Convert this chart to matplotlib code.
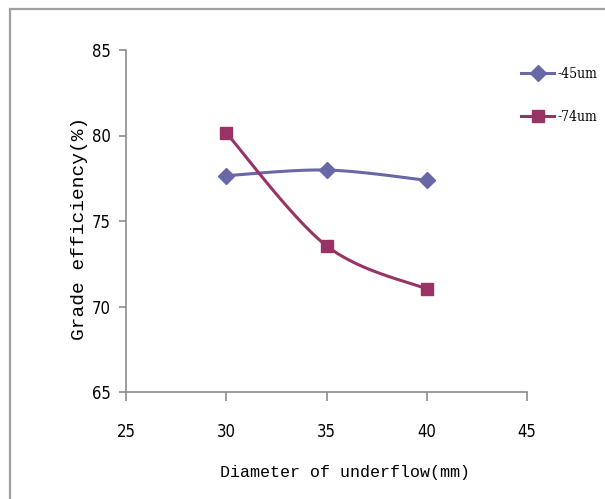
import numpy as np
import matplotlib.pyplot as plt
from matplotlib.patches import Rectangle
from matplotlib.lines import Line2D

# ---------- data ----------
diameter = [30, 35, 40]
eff_45 = [77.65, 77.98, 77.38]
eff_74 = [80.15, 73.55, 71.02]
labels = ["-45um", "-74um"]

cols = {"s45": "#6868A6", "s74": "#993366", "axis": "#8C8C8C"}

MONO = ["Liberation Mono", "DejaVu Sans Mono"]


def smooth(x, y, n=40):
    # Catmull-Rom curve through the points, like Excel's smoothed line
    x = np.asarray(x, float)
    y = np.asarray(y, float)
    px = np.concatenate([[x[0]], x, [x[-1]]])
    py = np.concatenate([[y[0]], y, [y[-1]]])
    xs, ys = [], []
    t = np.linspace(0, 1, n)
    for i in range(1, len(px) - 2):
        for p, out in ((px, xs), (py, ys)):
            p0, p1, p2, p3 = p[i - 1], p[i], p[i + 1], p[i + 2]
            out.extend(0.5 * (2 * p1 + (-p0 + p2) * t
                              + (2 * p0 - 5 * p1 + 4 * p2 - p3) * t ** 2
                              + (-p0 + 3 * p1 - 3 * p2 + p3) * t ** 3))
    return xs, ys


fig = plt.figure(figsize=(6.05, 4.99), dpi=100)
ax = fig.add_axes([126 / 605, 1 - 392 / 499, 401 / 605, 342 / 499])

# outer chart frame
fig.patches.append(Rectangle((10 / 605, -0.05), 1.0, 1 - 9 / 499 + 0.05,
                             transform=fig.transFigure, fill=False,
                             edgecolor="#A0A0A0", linewidth=1.6))

for yv, c, m in ((eff_45, cols["s45"], "D"), (eff_74, cols["s74"], "s")):
    sx, sy = smooth(diameter, yv)
    ax.plot(sx, sy, color=c, linewidth=2.2, solid_capstyle="round")
    ax.plot(diameter, yv, linestyle="none", marker=m, markersize=8,
            color=c, markeredgecolor=c)

ax.set_xlim(25, 45)
ax.set_ylim(65, 85)
ax.set_xticks([25, 30, 35, 40, 45])
ax.set_yticks([65, 70, 75, 80, 85])

for s in ("top", "right"):
    ax.spines[s].set_visible(False)
for s in ("left", "bottom"):
    ax.spines[s].set_color(cols["axis"])
    ax.spines[s].set_linewidth(1.2)

ax.tick_params(axis="y", direction="out", length=5, width=1.2,
               color=cols["axis"], pad=6)
ax.tick_params(axis="x", direction="out", length=6.5, width=1.2,
               color=cols["axis"], pad=16)
for lab in ax.get_xticklabels() + ax.get_yticklabels():
    lab.set_family("DejaVu Sans")
    lab.set_stretch("condensed")
    lab.set_fontsize(12)

ax.set_xlabel("Diameter of underflow(mm)", family=MONO, fontsize=12)
ax.xaxis.set_label_coords((345 - 126) / 401, -(465 - 392) / 342)
ax.set_ylabel("Grade efficiency(%)", family=MONO, fontsize=14)
ax.yaxis.set_label_coords(-(126 - 88) / 401, (392 - 228) / 342)

handles = [Line2D([], [], color=cols["s45"], marker="D", markersize=8, linewidth=2.2),
           Line2D([], [], color=cols["s74"], marker="s", markersize=8, linewidth=2.2)]
fig.legend(handles, labels, loc="upper left",
           bbox_to_anchor=(514 / 605, 1 - 60 / 499),
           frameon=False, borderpad=0, handlelength=2.4, handletextpad=0.25,
           labelspacing=2.1,
           prop={"family": "DejaVu Serif", "stretch": "condensed", "size": 10})

fig.savefig("out.png", dpi=100)
